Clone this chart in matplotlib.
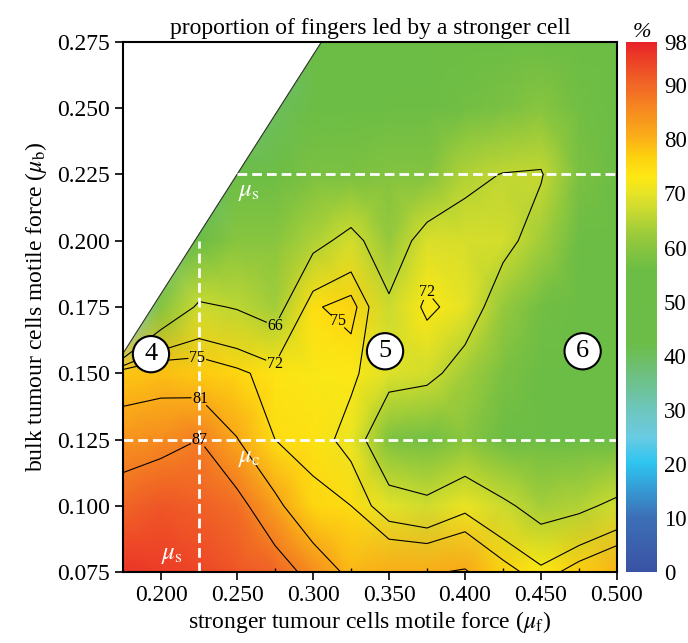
import numpy as np
import matplotlib
matplotlib.use("Agg")
import matplotlib.pyplot as plt
from matplotlib.colors import LinearSegmentedColormap
from matplotlib.patches import Polygon

plt.rcParams["font.family"] = ["Liberation Serif", "DejaVu Serif"]
plt.rcParams["mathtext.fontset"] = "stix"

# grid of simulated motile forces
mu_f = [0.175, 0.200, 0.225, 0.250, 0.275, 0.300, 0.325, 0.350, 0.375, 0.400, 0.425, 0.450, 0.475, 0.500]
mu_b = [0.075, 0.100, 0.125, 0.150, 0.175, 0.200, 0.225, 0.250, 0.275]

# % of fingers led by a stronger cell, one row per mu_b value (bottom to top)
row_075 = [96, 95, 94, 92, 90, 85, 79.5, 80.5, 80.5, 81.5, 76.7, 73, 77, 80]
row_100 = [90, 92, 91, 89, 82.5, 75.9, 75, 69.4, 67.7, 70.8, 67.3, 63.3, 64.5, 67.5]
row_125 = [84, 85, 87, 81.2, 75, 73.9, 70.5, 58.5, 57, 60, 56, 56, 54, 56]
row_150 = [78, 78.6, 77.5, 75.8, 73.5, 72.5, 72.8, 69, 68, 63, 58, 55, 53, 53]
row_175 = [25, 59.5, 67, 65.6, 63, 74.5, 76.5, 67, 73, 70, 62, 57, 54, 53]
row_200 = [30, 35, 55, 60, 60, 64, 68, 62, 68.7, 68.5, 68, 63, 56, 54]
row_225 = [30, 30, 35, 50, 56, 58, 58, 59, 59, 64.6, 66.2, 66.5, 58, 55]
row_250 = [30, 30, 30, 35, 40, 55, 55, 56, 56, 57, 58, 60, 57, 55]
row_275 = [30, 30, 30, 30, 35, 45, 55, 55, 54, 55, 55, 56, 55, 55]

contour_levels = [66, 72, 75, 81, 87]
cbar_ticks = [0, 10, 20, 30, 40, 50, 60, 70, 80, 90, 98]
ratio_limit = 0.9          # valid runs: mu_b <= 0.9 mu_f
mu_s, mu_c = 0.225, 0.125  # guide lines
mu_s_top = 0.225
regions = [("4", 0.1934, 0.1572), ("5", 0.3474, 0.1583), ("6", 0.4774, 0.1583)]
# where each level gets its inline label
label_pos = {66: [(0.274, 0.166)], 72: [(0.274, 0.1526), (0.3737, 0.184)],
             75: [(0.2239, 0.1562), (0.312, 0.167)], 81: [(0.225, 0.14)], 87: [(0.225, 0.126)]}

cmap = LinearSegmentedColormap.from_list("pct", [
    (0 / 98, "#3a53a4"), (10 / 98, "#3c6fb6"), (20 / 98, "#2ec4f0"), (25 / 98, "#6acbe2"),
    (30 / 98, "#6dc6bd"), (37 / 98, "#6dbf7a"), (42 / 98, "#6cbd48"), (56 / 98, "#6cbd45"),
    (62 / 98, "#97c93c"), (66 / 98, "#c0d733"), (70 / 98, "#e6e326"), (73 / 98, "#fde815"),
    (77 / 98, "#fdd10f"), (80 / 98, "#fbb217"), (85 / 98, "#f68e1f"), (90 / 98, "#f16826"),
    (95 / 98, "#ec3f27"), (98 / 98, "#e92228")])

Z = np.array([row_075, row_100, row_125, row_150, row_175, row_200, row_225, row_250, row_275])
X, Y = np.meshgrid(mu_f, mu_b)

fig = plt.figure(figsize=(6.88, 6.43), dpi=100)
ax = fig.add_axes([0.1788, 0.1104, 0.718, 0.8243])
cax = fig.add_axes([0.9099, 0.1104, 0.045, 0.8243])

x0, x1 = mu_f[0], mu_f[-1]
y0, y1 = mu_b[0], mu_b[-1]
clip = Polygon([(x0, y0), (x1, y0), (x1, y1), (y1 / ratio_limit, y1), (x0, x0 * ratio_limit)],
               closed=True, transform=ax.transData, facecolor="none", edgecolor="none")
ax.add_patch(clip)

mesh = ax.pcolormesh(X, Y, Z, shading="gouraud", cmap=cmap, vmin=0, vmax=98)
mesh.set_clip_path(clip)

for lev in contour_levels:
    cs = ax.contour(X, Y, Z, levels=[lev], colors="black", linewidths=0.8)
    cs.set_clip_path(clip)
    texts = ax.clabel(cs, fmt="%d", fontsize=11.5, manual=label_pos[lev], inline=True,
                      inline_spacing=1)
    for t in texts:
        t.set_rotation(0)

# edge of the explored region
ax.plot([x0, y1 / ratio_limit], [x0 * ratio_limit, y1], color="#333333", lw=0.8)

# guide lines
dash = dict(color="white", lw=2, dashes=(3.5, 1.8))
ax.plot([mu_s_top / ratio_limit, x1], [mu_s_top, mu_s_top], **dash)
ax.plot([x0, x1], [mu_c, mu_c], **dash)
ax.plot([mu_s, mu_s], [y0, 0.2], **dash)

ax.text(0.2505, 0.2185, r"$\mu_{\rm s}$", color="white", fontsize=18, ha="left", va="center")
ax.text(0.2505, 0.118, r"$\mu_{\rm c}$", color="white", fontsize=18, ha="left", va="center")
ax.text(0.2, 0.0815, r"$\mu_{\rm s}$", color="white", fontsize=18, ha="left", va="center")

for name, rx, ry in regions:
    ax.text(rx, ry, name, fontsize=19, ha="center", va="center",
            bbox=dict(boxstyle="circle,pad=0.27", fc="white", ec="black", lw=1.5))

xt = np.arange(0.2, 0.501, 0.05)
ax.set_xlim(x0, x1)
ax.set_ylim(y0, y1)
ax.set_xticks(xt)
ax.set_yticks(mu_b)
ax.set_xticklabels([f"{v:.3f}" for v in xt])
ax.set_yticklabels([f"{v:.3f}" for v in mu_b])
ax.set_xticks(np.arange(0.225, 0.5, 0.05), minor=True)
ax.tick_params(which="major", direction="out", length=6, width=1.2, labelsize=17)
ax.tick_params(which="minor", direction="in", length=3, width=1)
for s in ax.spines.values():
    s.set_linewidth(1.5)

ax.set_title("proportion of fingers led by a stronger cell", fontsize=17, pad=6)
ax.set_xlabel(r"stronger tumour cells motile force ($\mu_{\rm f}$)", fontsize=17, labelpad=2)
ax.set_ylabel(r"bulk tumour cells motile force ($\mu_{\rm b}$)", fontsize=17, labelpad=6)

cb = fig.colorbar(mesh, cax=cax, ticks=cbar_ticks)
cb.outline.set_visible(False)
cb.ax.tick_params(length=0, labelsize=16.5, pad=5)
cax.set_title("%", fontsize=16, style="italic", pad=3)

fig.savefig("out.png", dpi=100)
